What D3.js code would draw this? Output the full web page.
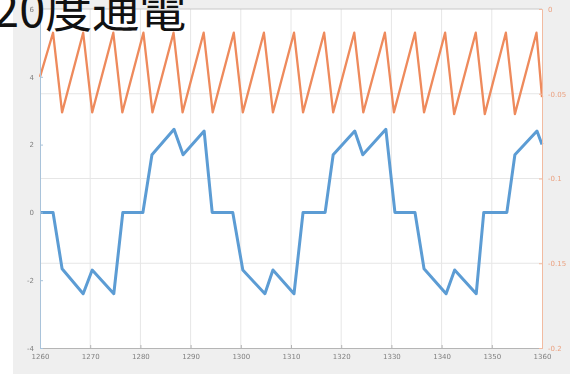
<!DOCTYPE html>
<html>
<head>
<meta charset="utf-8">
<script src="https://cdn.jsdelivr.net/npm/d3@7"></script>
<style>
  html, body { margin: 0; padding: 0; background: #fff; }
  svg { display: block; }
</style>
</head>
<body>
<svg id="chart" width="570" height="374"></svg>
<script>
// Phase current (left axis) and rotor-side signal (right axis) under 120-degree commutation
const titleText = "120度通電";

const xTicks = [1260, 1270, 1280, 1290, 1300, 1310, 1320, 1330, 1340, 1350, 1360];
const leftTicks = [-4, -2, 0, 2, 4, 6];
const leftTickLabels = ["-4", "-2", "0", "2", "4", "6"];
const rightTicks = [0, -0.05, -0.1, -0.15, -0.2];
const rightTickLabels = ["0", "-0.05", "-0.1", "-0.15", "-0.2"];

// Blue series: stepped current waveform
const currentX = [1260, 1262.6, 1264.4, 1268.6, 1270.4, 1274.7, 1276.5, 1280.5, 1282.3, 1286.7,
                  1288.5, 1292.7, 1294.3, 1298.4, 1300.4, 1304.8, 1306.4, 1310.6, 1312.4, 1316.8,
                  1318.4, 1322.7, 1324.3, 1328.9, 1330.7, 1334.7, 1336.5, 1340.9, 1342.6, 1346.9,
                  1348.4, 1353.0, 1354.6, 1359.0, 1360];
const currentY = [0, 0, -1.66, -2.4, -1.7, -2.4, 0, 0, 1.7, 2.45,
                  1.7, 2.4, 0, 0, -1.7, -2.4, -1.7, -2.4, 0, 0,
                  1.7, 2.4, 1.7, 2.45, 0, 0, -1.66, -2.4, -1.7, -2.4,
                  0, 0, 1.7, 2.4, 2.0];

// Orange series: sawtooth on the right axis
const sawX = [1260, 1262.6, 1264.4, 1268.6, 1270.4, 1274.6, 1276.4, 1280.6, 1282.4, 1286.6,
              1288.4, 1292.6, 1294.4, 1298.6, 1300.4, 1304.6, 1306.4, 1310.6, 1312.4, 1316.6,
              1318.4, 1322.6, 1324.4, 1328.7, 1330.5, 1334.7, 1336.5, 1340.7, 1342.5, 1346.8,
              1348.6, 1352.8, 1354.6, 1358.9, 1360];
const sawY = [-0.040, -0.014, -0.061, -0.014, -0.061, -0.014, -0.061, -0.014, -0.061, -0.014,
              -0.061, -0.014, -0.061, -0.014, -0.061, -0.014, -0.061, -0.014, -0.061, -0.014,
              -0.061, -0.014, -0.061, -0.014, -0.061, -0.014, -0.061, -0.014, -0.062, -0.014,
              -0.062, -0.014, -0.062, -0.014, -0.052];

const svg = d3.select("#chart");
const W = 570, H = 374;
const plot = { left: 40, right: 542, top: 9, bottom: 348 };

// figure background
svg.append("rect").attr("x", 13).attr("y", 0).attr("width", W - 13).attr("height", H)
  .attr("fill", "#efefef");
svg.append("rect").attr("x", plot.left).attr("y", plot.top)
  .attr("width", plot.right - plot.left).attr("height", plot.bottom - plot.top)
  .attr("fill", "#ffffff");

const x = d3.scaleLinear().domain([1260, 1360]).range([plot.left, plot.right]);
const yL = d3.scaleLinear().domain([-4, 6]).range([plot.bottom, plot.top]);
const yR = d3.scaleLinear().domain([-0.2, 0]).range([plot.bottom, plot.top]);

const soft = svg.append("defs").append("filter").attr("id", "soft")
  .attr("x", "-5%").attr("y", "-5%").attr("width", "110%").attr("height", "110%");
soft.append("feGaussianBlur").attr("stdDeviation", 0.55);

const g = svg.append("g").attr("filter", "url(#soft)");

// grid
const grid = g.append("g").attr("stroke", "#e6e6e6").attr("stroke-width", 1);
xTicks.slice(1, -1).forEach(t => {
  grid.append("line").attr("x1", x(t)).attr("x2", x(t)).attr("y1", plot.top).attr("y2", plot.bottom);
});
rightTicks.slice(1, -1).forEach(t => {
  grid.append("line").attr("x1", plot.left).attr("x2", plot.right).attr("y1", yR(t)).attr("y2", yR(t));
});

// series
const lineCur = d3.line().x((d, i) => x(currentX[i])).y(d => yL(d));
const lineSaw = d3.line().x((d, i) => x(sawX[i])).y(d => yR(d));

g.append("path").datum(sawY).attr("d", lineSaw)
  .attr("fill", "none").attr("stroke", "#ee8a5c").attr("stroke-width", 2.3)
  .attr("stroke-linejoin", "round");
g.append("path").datum(currentY).attr("d", lineCur)
  .attr("fill", "none").attr("stroke", "#5b9cd4").attr("stroke-width", 3)
  .attr("stroke-linejoin", "round");

// axes
const fontFam = "'DejaVu Sans', sans-serif";
const axB = g.append("g").attr("transform", `translate(0,${plot.bottom})`)
  .call(d3.axisBottom(x).tickValues(xTicks).tickSize(-3).tickPadding(6).tickFormat(d3.format("d")));
axB.select(".domain").attr("stroke", "#b5b5b5");
axB.selectAll(".tick line").attr("stroke", "#b5b5b5");
axB.selectAll("text").attr("fill", "#808080").style("font-size", "7px").style("font-family", fontFam);

g.append("line").attr("x1", plot.left).attr("x2", plot.right)
  .attr("y1", plot.top).attr("y2", plot.top).attr("stroke", "#c8c8c8");

const axL = g.append("g").attr("transform", `translate(${plot.left},0)`)
  .call(d3.axisLeft(yL).tickValues(leftTicks).tickSize(-3).tickPadding(6)
    .tickFormat((d, i) => leftTickLabels[i]));
axL.select(".domain").attr("stroke", "#a9c3da");
axL.selectAll(".tick line").attr("stroke", "#a9c3da");
axL.selectAll("text").attr("fill", "#808080").style("font-size", "7px").style("font-family", fontFam);

const axR = g.append("g").attr("transform", `translate(${plot.right},0)`)
  .call(d3.axisRight(yR).tickValues(rightTicks).tickSize(-3).tickPadding(6)
    .tickFormat((d, i) => rightTickLabels[i]));
axR.select(".domain").attr("stroke", "#f2bba1");
axR.selectAll(".tick line").attr("stroke", "#f2bba1");
axR.selectAll("text").attr("fill", "#eba282").style("font-size", "7px").style("font-family", fontFam);

// title
svg.append("text").attr("x", -33).attr("y", 27)
  .attr("fill", "#111")
  .style("font-family", "'Noto Sans CJK JP', sans-serif")
  .style("font-size", "47px")
  .text(titleText);
</script>
</body>
</html>
